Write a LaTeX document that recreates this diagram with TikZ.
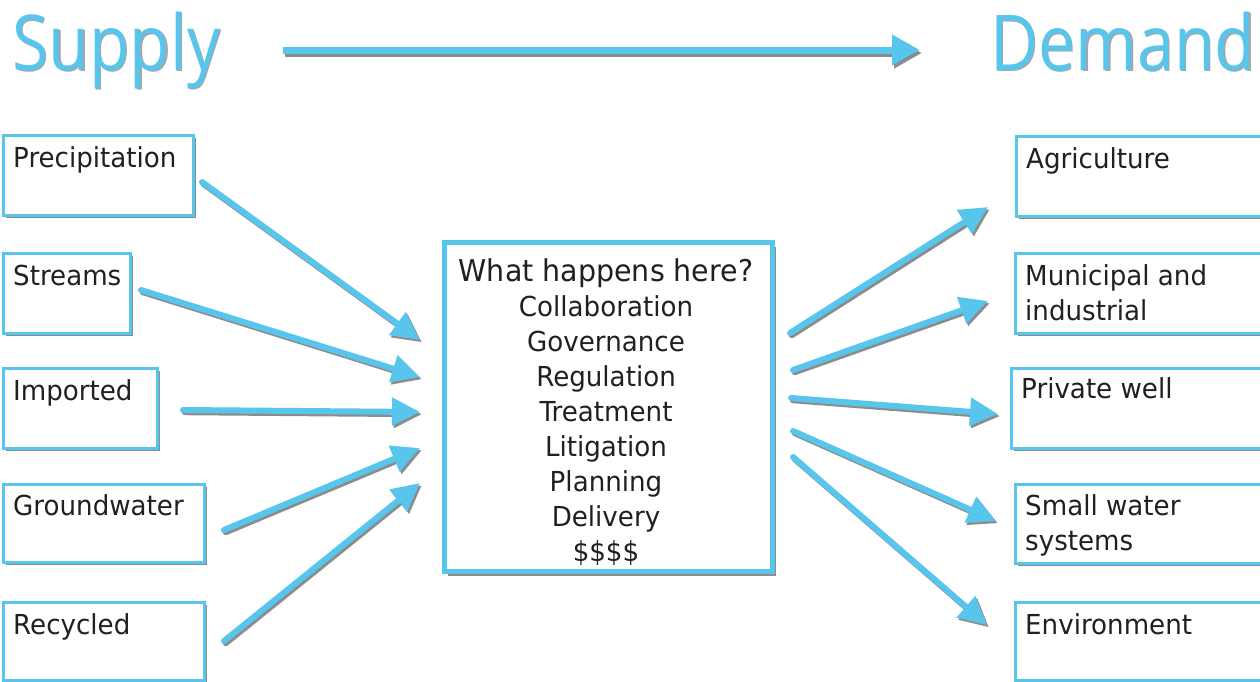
\documentclass[tikz,border=0pt]{standalone}
\usepackage{fontspec}
\setmainfont{DejaVu Sans}[FakeStretch=0.95]
\newfontfamily\titlefont{Open Sans}[FakeStretch=0.86]
\usetikzlibrary{arrows.meta,shadows}
\definecolor{flowblue}{RGB}{88,198,236}
\definecolor{ink}{RGB}{35,31,32}

\tikzset{
  x=1pt, y=-1pt,
  boxshadow/.style={drop shadow={shadow xshift=3.2pt, shadow yshift=-3.4pt, opacity=0.45, fill=black}},
  itembox/.style={rectangle, draw=flowblue, line width=3pt, fill=white, inner sep=0pt,
    anchor=north west, boxshadow},
  hubbox/.style={rectangle, draw=flowblue, line width=5pt, fill=white, inner sep=0pt,
    drop shadow={shadow xshift=3.8pt, shadow yshift=-4pt, opacity=0.45, fill=black}},
  itemtext/.style={text=ink, inner sep=0pt, anchor=base west, font=\fontsize{27.5}{35}\selectfont, align=left},
  titletext/.style={text=flowblue, inner sep=0pt, anchor=base west, font=\titlefont\fontsize{77}{80}\selectfont},
  titleshade/.style={text=black, opacity=0.35, inner sep=0pt, anchor=base west, font=\titlefont\fontsize{77}{80}\selectfont},
  flow/.style={draw=flowblue, line width=6pt, line cap=round, -{Triangle[length=28pt,width=27pt]}},
  flowshade/.style={draw=black, opacity=0.45, line width=6pt, line cap=round,
    -{Triangle[length=28pt,width=27pt]}, transform canvas={shift={(1.8pt,-2.2pt)}}},
  bigflow/.style={draw=flowblue, line width=7pt, -{Triangle[length=28pt,width=29pt]}},
  bigflowshade/.style={draw=black, opacity=0.45, line width=7pt,
    -{Triangle[length=28pt,width=29pt]}, transform canvas={shift={(2pt,-3pt)}}},
}

% arrow with its soft shadow
\newcommand\flowarrow[2]{%
  \draw[flowshade] (#1) -- (#2);
  \draw[flow] (#1) -- (#2);}

\begin{document}
\begin{tikzpicture}
\useasboundingbox[fill=white] (0,0) rectangle (1260,681);

% headings
\node[titleshade] at (13.5,71.8) {Supply};
\node[titletext] (supply) at (12,70) {Supply};
\node[titleshade] at (991.5,71.8) {Demand};
\node[titletext] (demand) at (990,70) {Demand};

\coordinate (topstart) at (283,50);
\coordinate (topend) at (920,50);
\draw[bigflowshade] (topstart) -- (topend);
\draw[bigflow] (topstart) -- (topend);

% supply sources
\node[itembox, minimum width=190pt, minimum height=80pt] (pre) at (1.5,133.5) {};
\node[itembox, minimum width=127pt, minimum height=80pt] (str) at (1.5,251.5) {};
\node[itembox, minimum width=154pt, minimum height=80pt] (imp) at (1.5,366.5) {};
\node[itembox, minimum width=201pt, minimum height=78pt] (gw)  at (1.5,482.5) {};
\node[itembox, minimum width=201pt, minimum height=78pt] (rec) at (1.5,600.5) {};

\node[itemtext] at (13,167) {Precipitation};
\node[itemtext] at (13,285) {Streams};
\node[itemtext] at (13,400) {Imported};
\node[itemtext] at (13,515) {Groundwater};
\node[itemtext] at (13,634) {Recycled};

% demand uses
\node[itembox, minimum width=260pt, minimum height=80pt] (agr) at (1014.5,134.5) {};
\node[itembox, minimum width=260pt, minimum height=80pt] (mun) at (1013.5,251.5) {};
\node[itembox, minimum width=260pt, minimum height=80pt] (prw) at (1009.5,366.5) {};
\node[itembox, minimum width=260pt, minimum height=79pt] (sws) at (1013.5,482.5) {};
\node[itembox, minimum width=260pt, minimum height=78pt] (env) at (1013.5,600.5) {};

% two-line labels sit on the baseline of their last line
\node[itemtext] at (1026,168) {Agriculture};
\node[itemtext] at (1025,320) {Municipal and\\industrial};
\node[itemtext] at (1021,398) {Private well};
\node[itemtext] at (1025,550) {Small water\\systems};
\node[itemtext] at (1025,634) {Environment};

% the middle stage
\node[hubbox, minimum width=328pt, minimum height=329pt] (hub) at (608.5,407) {};
\node[text=ink, inner sep=0pt, anchor=north, align=center,
      font=\fontsize{27.5}{35}\selectfont] (hubtext) at (606,258)
  {{\fontsize{30}{35}\selectfont What happens here?}\\
   Collaboration\\Governance\\Regulation\\Treatment\\Litigation\\Planning\\Delivery\\\$\$\$\$};

% arrows into the middle stage
\coordinate (a1) at (202,182); \coordinate (b1) at (420,340);
\coordinate (a2) at (141,290); \coordinate (b2) at (420,377);
\coordinate (a3) at (183,410); \coordinate (b3) at (420,412);
\coordinate (a4) at (224,530); \coordinate (b4) at (420,448);
\coordinate (a5) at (224,641); \coordinate (b5) at (420,483);
\flowarrow{a1}{b1}
\flowarrow{a2}{b2}
\flowarrow{a3}{b3}
\flowarrow{a4}{b4}
\flowarrow{a5}{b5}

% arrows out to the uses
\coordinate (c1) at (790,333); \coordinate (d1) at (988,207);
\coordinate (c2) at (793,370); \coordinate (d2) at (988,301);
\coordinate (c3) at (791,398); \coordinate (d3) at (998,414);
\coordinate (c4) at (793,431); \coordinate (d4) at (996,521);
\coordinate (c5) at (793,457); \coordinate (d5) at (987,625);
\flowarrow{c1}{d1}
\flowarrow{c2}{d2}
\flowarrow{c3}{d3}
\flowarrow{c4}{d4}
\flowarrow{c5}{d5}
\end{tikzpicture}
\end{document}
